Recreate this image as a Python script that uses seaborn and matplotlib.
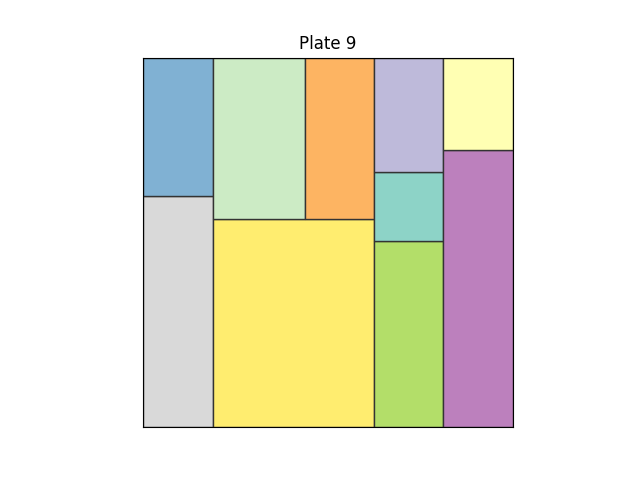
import matplotlib
matplotlib.use("Agg")
from matplotlib import pyplot as plt
import seaborn as sns

# Treemap values (share of total, in percent), grouped into columns
labels = ["grey", "blue", "yellow", "lightgreen", "orange",
          "green", "teal", "lavender", "purple", "lightyellow"]
values = [11.8, 7.1, 24.5, 10.9, 8.1, 9.4, 3.5, 5.8, 14.2, 4.7]
# Set3 palette index for each tile
color_idx = [8, 4, 11, 10, 5, 6, 0, 2, 9, 1]

# Column layout: each column is stacked bottom-up; a nested list is a row split sideways
layout = [
    [0, 1],
    [2, [3, 4]],
    [5, 6, 7],
    [8, 9],
]

palette = sns.color_palette("Set3", 12)


def total(item):
    if isinstance(item, list):
        return sum(total(i) for i in item)
    return values[item]


# Function to compute tile rectangles with a simple slice-and-dice layout
def compute_rects():
    rects = {}
    grand = sum(values)
    x = 0.0
    for col in layout:
        w = total(col) / grand
        y = 0.0
        for item in col:
            h = total(item) / grand / w
            if isinstance(item, list):
                xx = x
                for sub in item:
                    sw = values[sub] / grand / h
                    rects[sub] = (xx, y, sw, h)
                    xx += sw
            else:
                rects[item] = (x, y, w, h)
            y += h
        x += w
    return rects


rects = compute_rects()

fig, ax = plt.subplots(figsize=(6.4, 4.8), dpi=100)
for i in range(len(values)):
    x, y, w, h = rects[i]
    ax.bar(x, h, width=w, bottom=y, align="edge",
           color=palette[color_idx[i]], edgecolor="#333333", linewidth=1)

ax.set_xlim(0, 1)
ax.set_ylim(0, 1)
ax.set_aspect("equal")
ax.set_xticks([])
ax.set_yticks([])
ax.set_title("Plate 9")

plt.savefig("out.png", dpi=100)
